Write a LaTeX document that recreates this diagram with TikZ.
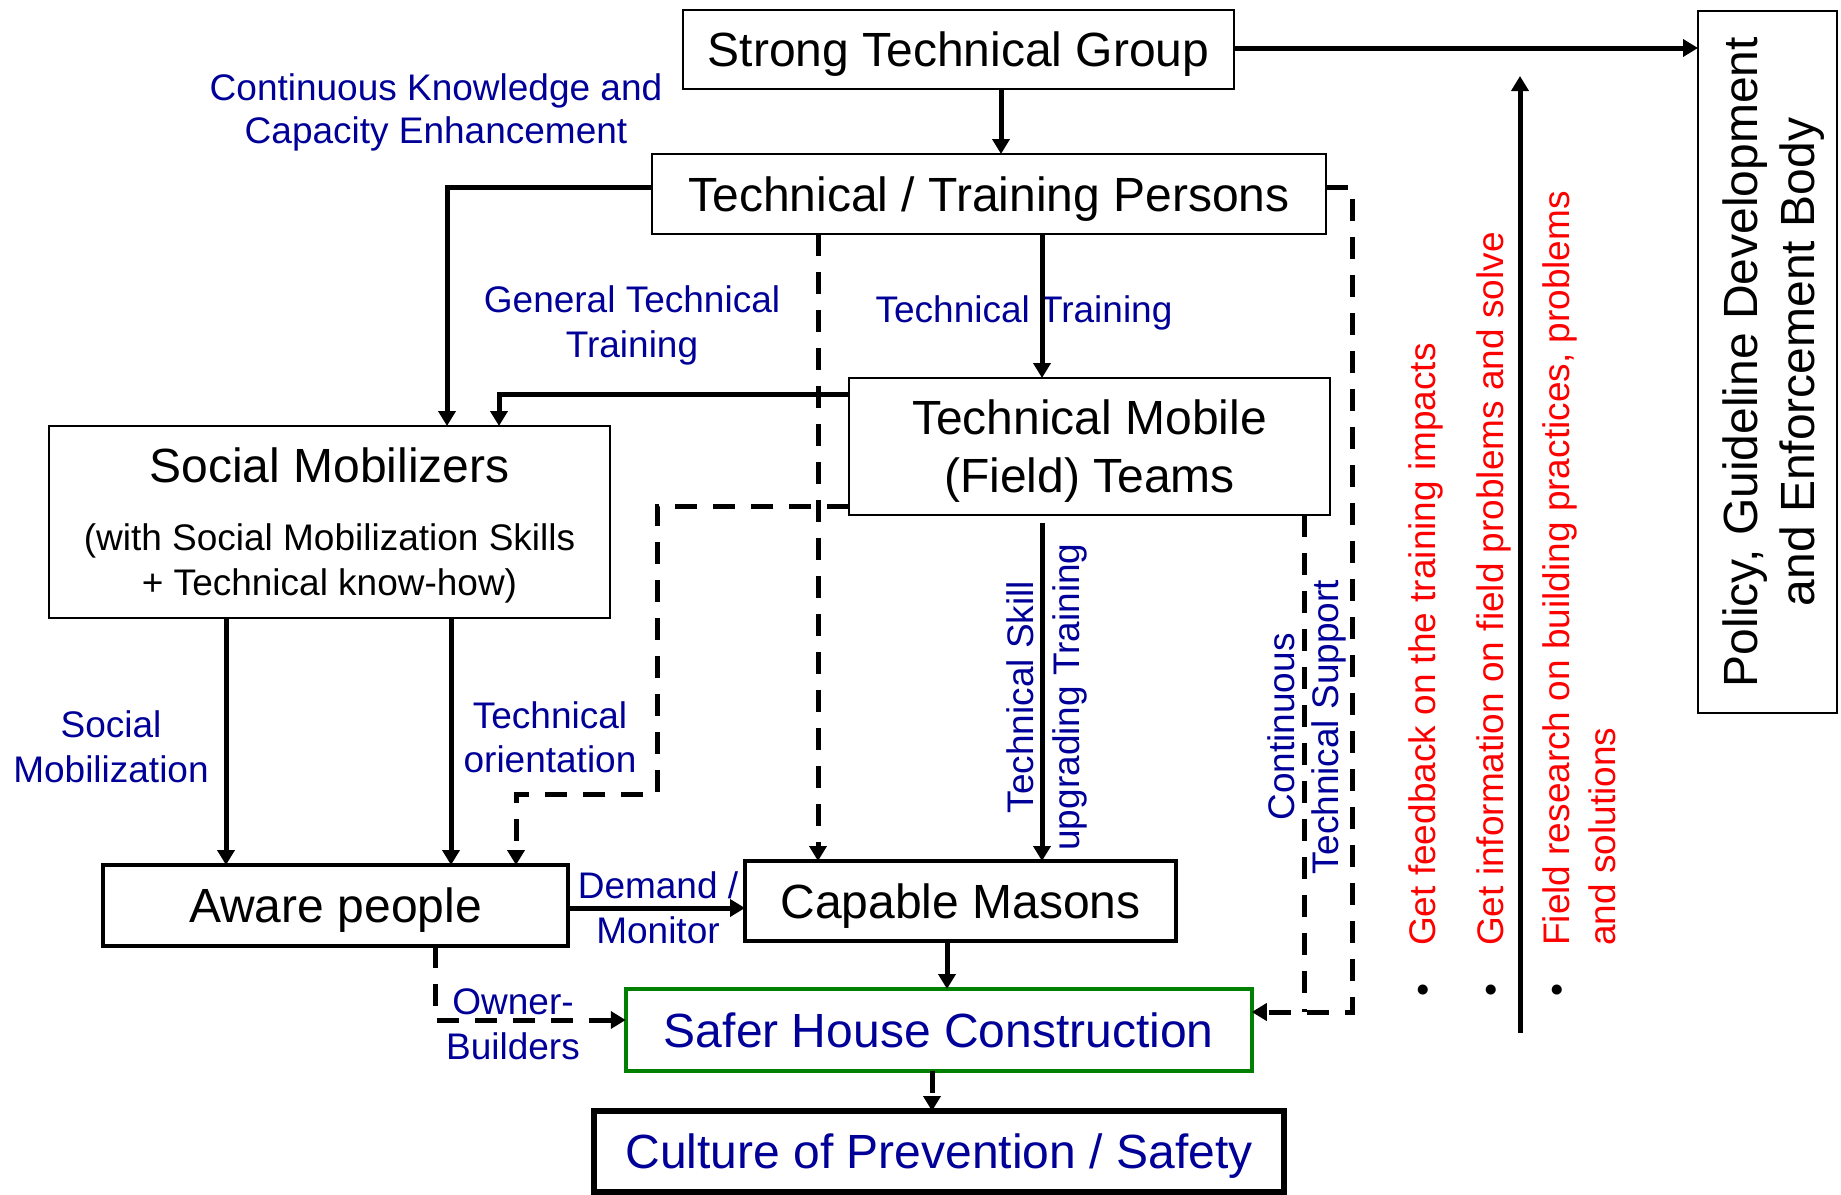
\documentclass[tikz,border=0pt]{standalone}
\usepackage{fontspec}
\setmainfont{Liberation Sans}
\usetikzlibrary{arrows.meta}
\definecolor{lblue}{RGB}{0,0,153}
\definecolor{lred}{RGB}{255,0,0}
\definecolor{lgreen}{RGB}{0,128,0}
\newcommand\mylines[1]{\begin{tabular}[t]{@{}c@{}}#1\end{tabular}}
\begin{document}
\begin{tikzpicture}[x=1pt,y=-1pt,
  box/.style={draw, line width=2.7pt, inner sep=0pt, outer sep=0pt, text height=34pt, text depth=0pt, font=\fontsize{48}{56}\selectfont},
  lbl/.style={text=lblue, font=\fontsize{37}{45}\selectfont, inner sep=0pt, anchor=base},
  conn/.style={line width=5pt, -{Triangle[length=15pt,width=17pt]}},
  dline/.style={line width=5pt, dash pattern=on 22pt off 16pt},
  dconn/.style={conn, dash pattern=on 22pt off 16pt}]
\useasboundingbox (0,0) rectangle (1841,1194);
% boxes
\node[box, minimum width=551pt, minimum height=79pt] (stg) at (958.5,49.5) {Strong Technical Group};
\node[box, minimum width=674pt, minimum height=80pt] (ttp) at (989,194) {Technical / Training Persons};
\node[box, rotate=90, minimum width=702pt, minimum height=139pt, text depth=55pt, font=\fontsize{48}{57}\selectfont] (pol) at (1767.5,362) {\mylines{Policy, Guideline Development\\and Enforcement Body}};
\node[box, minimum width=481pt, minimum height=137pt, text depth=59pt, font=\fontsize{48}{58}\selectfont] (tmt) at (1089.5,446.5) {\mylines{Technical Mobile\\(Field) Teams}};
\node[box, minimum width=561pt, minimum height=192pt, text depth=114pt, font=\fontsize{37}{45}\selectfont] (sm) at (329.5,522) {\mylines{{\fontsize{48}{56}\selectfont Social Mobilizers}\\[23pt](with Social Mobilization Skills\\+ Technical know-how)}};
\node[box, line width=3.5pt, minimum width=465pt, minimum height=81pt] (ap) at (335.5,905.5) {Aware people};
\node[box, line width=3.5pt, minimum width=431pt, minimum height=80pt] (cm) at (960.5,901) {Capable Masons};
\node[box, draw=lgreen, line width=4pt, text=lblue, minimum width=626pt, minimum height=82pt] (shc) at (938.75,1030) {Safer House Construction};
\node[box, line width=5.5pt, text=lblue, minimum width=690pt, minimum height=81pt] (cul) at (939,1151.5) {Culture of Prevention / Safety};
% labels
\node[lbl, font=\fontsize{37}{43}\selectfont] (l1) at (436,100) {\mylines{Continuous Knowledge and\\Capacity Enhancement}};
\node[lbl] (l2) at (632,312) {\mylines{General Technical\\Training}};
\node[lbl] (l3) at (1024,322) {Technical Training};
\node[lbl] (l4) at (111,737) {\mylines{Social\\Mobilization}};
\node[lbl, font=\fontsize{37}{44}\selectfont] (l5) at (550,728) {\mylines{Technical\\orientation}};
\node[lbl] (l6) at (658,898) {\mylines{Demand /\\Monitor}};
\node[lbl] (l7) at (513,1014) {\mylines{Owner-\\Builders}};
\node[lbl, rotate=90, font=\fontsize{37}{46}\selectfont] (l8) at (1033,697) {\mylines{Technical Skill\\upgrading Training}};
\node[lbl, rotate=90, font=\fontsize{37}{44}\selectfont] (l9) at (1294,727) {\mylines{Continuous\\Technical Support}};
\node[rotate=90, anchor=base west, inner sep=0pt, text=lred, font=\fontsize{37}{46}\selectfont] (fb) at (1435,996.5) {\begin{tabular}[t]{@{}l@{}l@{}}\makebox[50.5pt][l]{\color{black}•}&Get feedback on the training impacts\\[22pt]{\color{black}•}&Get information on field problems and solve\\[20pt]{\color{black}•}&Field research on building practices, problems\\&and solutions\end{tabular}};
% connectors
\draw[conn] (stg.south -| 1001,0) -- (ttp.north -| 1001,0);
\draw[conn] (stg.east |- 0,48) -- (pol.north |- 0,48);
\draw[conn] (ttp.west |- 0,187) -| (sm.north -| 447,0);
\draw[conn] (tmt.west |- 0,394) -| (sm.north -| 499,0);
\draw[conn] (ttp.south -| 1042,0) -- (tmt.north -| 1042,0);
\draw[dconn] (ttp.south -| 818,0) -- (cm.north -| 818,0);
\draw[dconn] (ttp.east |- 0,187) -| (1352,1012) -- (shc.east |- 0,1012);
\coordinate (j) at (1304,1012);
\draw[dline] (tmt.south -| j) -- (j);
\draw[dconn] (tmt.west |- 0,506) -| (657,794) -| (ap.north -| 516,0);
\draw[conn] (sm.south -| 226,0) -- (ap.north -| 226,0);
\draw[conn] (sm.south -| 451,0) -- (ap.north -| 451,0);
\draw[conn, shorten <=8pt] (tmt.south -| 1042,0) -- (cm.north -| 1042,0);
\draw[conn] (ap.east |- 0,908) -- (cm.west |- 0,908);
\draw[dconn] (ap.south -| 435,0) |- (shc.west |- 0,1020);
\draw[conn] (cm.south -| 947,0) -- (shc.north -| 947,0);
\draw[dconn] (shc.south -| 932,0) -- (cul.north -| 932,0);
\coordinate (up0) at (1520,1033);
\coordinate (up1) at (1520,76);
\draw[conn] (up0) -- (up1);
\end{tikzpicture}
\end{document}
